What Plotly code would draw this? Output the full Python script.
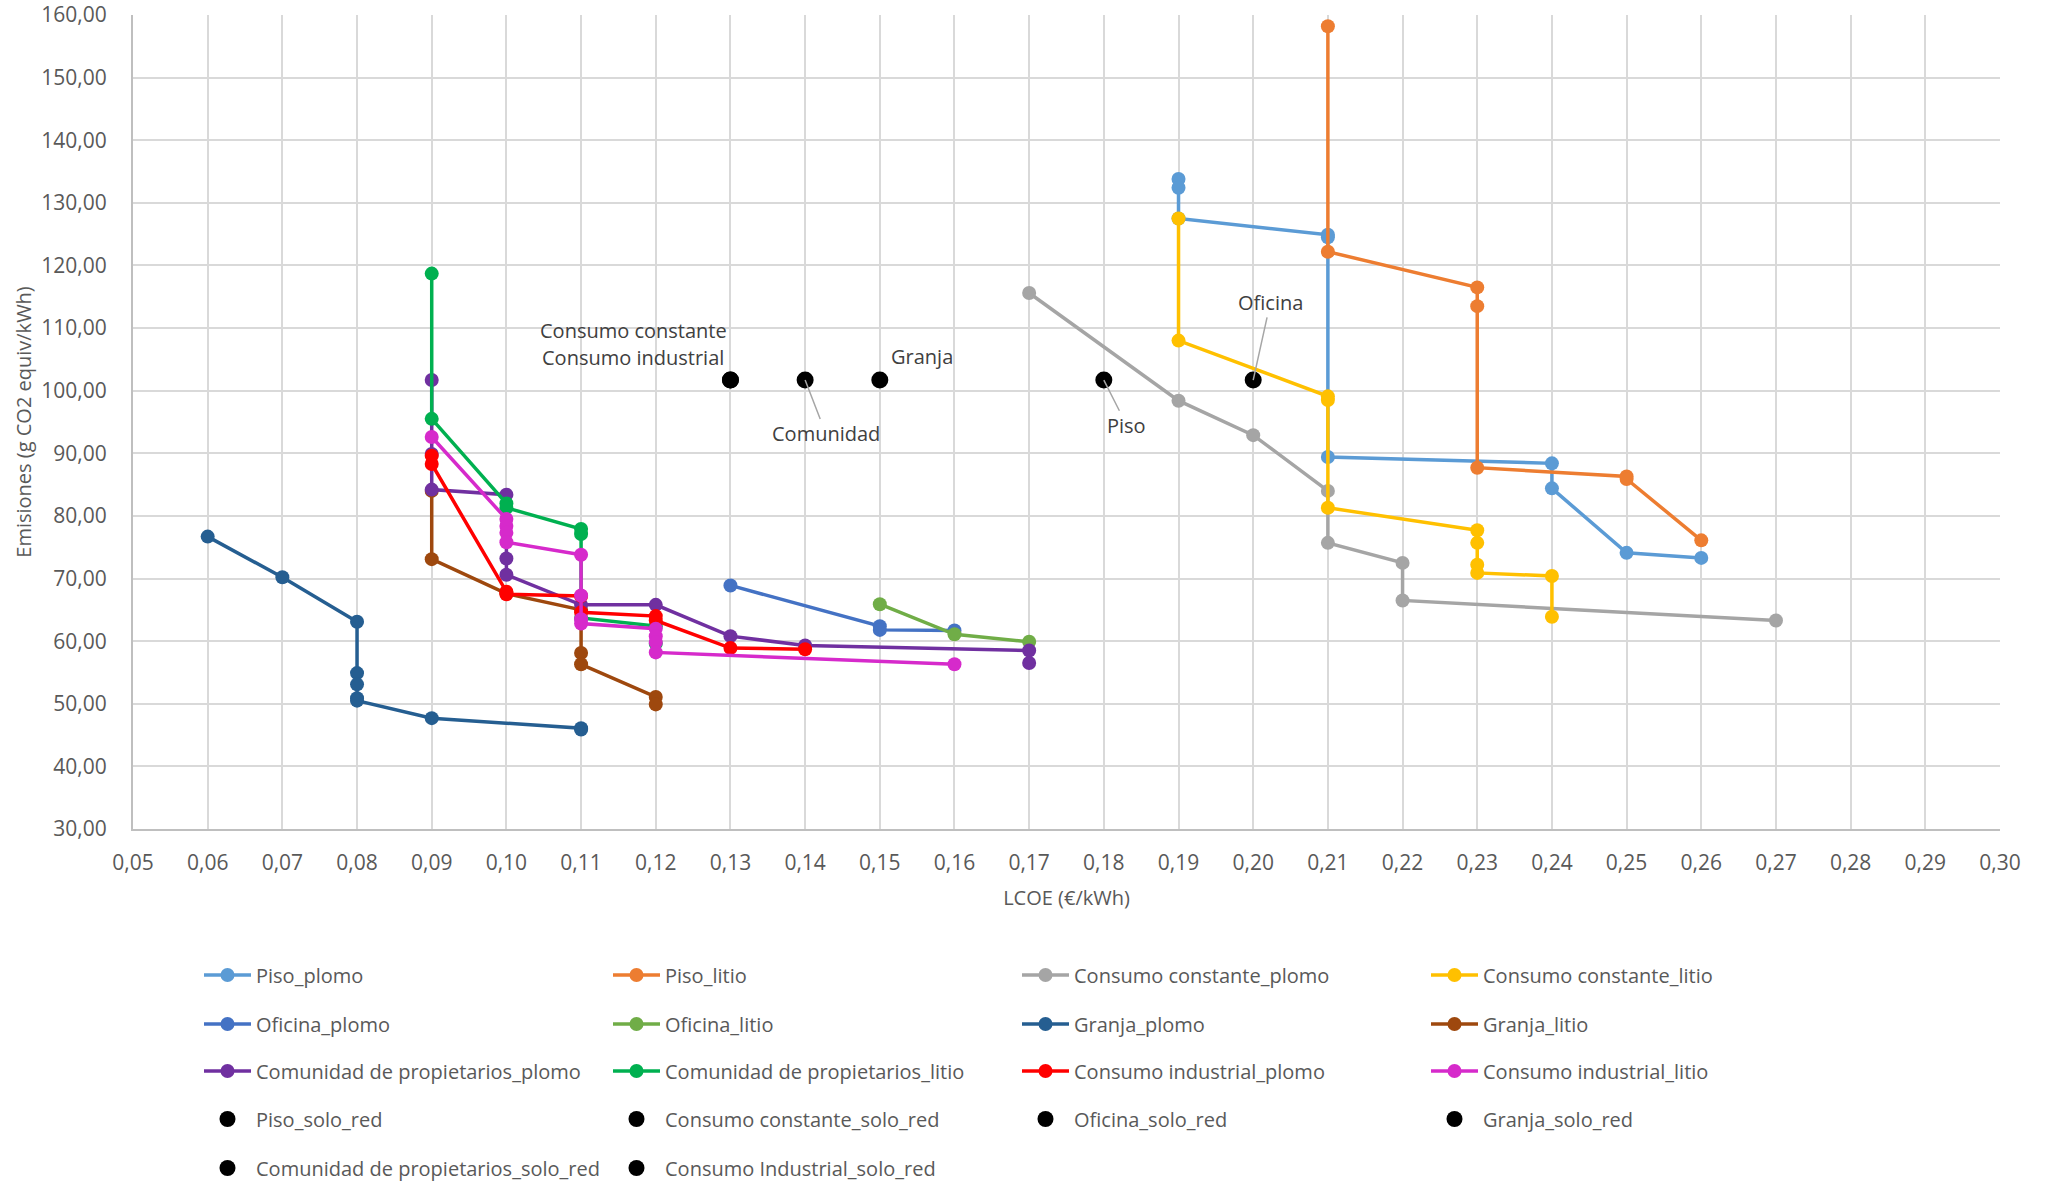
import plotly.graph_objects as go

# LCOE (€/kWh) and emissions (g CO2 equiv/kWh) for each scenario
piso_plomo_x = [0.19, 0.19, 0.19, 0.21, 0.21, 0.21, 0.24, 0.24, 0.25, 0.26]
piso_plomo_y = [133.8, 132.4, 127.5, 124.9, 124.5, 89.4, 88.4, 84.4, 74.1, 73.3]

piso_litio_x = [0.21, 0.21, 0.23, 0.23, 0.23, 0.25, 0.25, 0.26]
piso_litio_y = [158.2, 122.2, 116.5, 113.5, 87.7, 86.3, 85.9, 76.1]

cc_plomo_x = [0.17, 0.19, 0.20, 0.21, 0.21, 0.22, 0.22, 0.27]
cc_plomo_y = [115.6, 98.4, 92.9, 84.0, 75.7, 72.5, 66.5, 63.3]

cc_litio_x = [0.19, 0.19, 0.21, 0.21, 0.21, 0.23, 0.23, 0.23, 0.23, 0.24, 0.24]
cc_litio_y = [127.5, 108.0, 99.1, 98.5, 81.3, 77.7, 75.7, 72.2, 70.9, 70.4, 63.9]

oficina_plomo_x = [0.13, 0.15, 0.15, 0.16]
oficina_plomo_y = [68.9, 62.4, 61.8, 61.7]

oficina_litio_x = [0.15, 0.16, 0.17]
oficina_litio_y = [65.9, 61.1, 59.9]

granja_plomo_x = [0.06, 0.07, 0.08, 0.08, 0.08, 0.08, 0.08, 0.09, 0.11, 0.11]
granja_plomo_y = [76.7, 70.2, 63.1, 54.9, 53.1, 50.9, 50.5, 47.7, 46.1, 45.9]

granja_litio_x = [0.09, 0.09, 0.10, 0.11, 0.11, 0.11, 0.12, 0.12]
granja_litio_y = [84.0, 73.1, 67.6, 65.0, 58.1, 56.3, 51.1, 49.9]

comunidad_plomo_x = [0.09, 0.09, 0.09, 0.10, 0.10, 0.10, 0.11, 0.12, 0.13, 0.14, 0.17, 0.17]
comunidad_plomo_y = [101.7, 89.9, 84.2, 83.4, 73.2, 70.6, 65.8, 65.8, 60.8, 59.3, 58.5, 56.5]

comunidad_litio_x = [0.09, 0.09, 0.10, 0.10, 0.11, 0.11, 0.11, 0.12, 0.12]
comunidad_litio_y = [118.7, 95.5, 82.0, 81.3, 77.9, 77.1, 63.7, 62.4, 59.6]

ci_plomo_x = [0.09, 0.09, 0.10, 0.10, 0.11, 0.11, 0.12, 0.12, 0.13, 0.14]
ci_plomo_y = [89.6, 88.3, 67.9, 67.5, 67.2, 64.6, 64.0, 63.3, 58.9, 58.7]

ci_litio_x = [0.09, 0.10, 0.10, 0.10, 0.10, 0.11, 0.11, 0.11, 0.11, 0.12, 0.12, 0.12, 0.12, 0.16]
ci_litio_y = [92.6, 79.5, 78.4, 77.3, 75.8, 73.8, 67.3, 63.5, 62.8, 62.0, 60.8, 59.8, 58.2, 56.3]

# Grid-only reference points (one per building type)
solo_red_names = ["Piso_solo_red", "Consumo constante_solo_red", "Oficina_solo_red",
                  "Granja_solo_red", "Comunidad de propietarios_solo_red",
                  "Consumo Industrial_solo_red"]
solo_red_x = [0.18, 0.13, 0.20, 0.15, 0.14, 0.13]
solo_red_y = [101.7, 101.7, 101.7, 101.7, 101.7, 101.7]

x_ticks = [round(0.05 + 0.01 * i, 2) for i in range(26)]
y_ticks = list(range(30, 161, 10))

line_series = [
    ("Piso_plomo", piso_plomo_x, piso_plomo_y, "#5B9BD5"),
    ("Piso_litio", piso_litio_x, piso_litio_y, "#ED7D31"),
    ("Consumo constante_plomo", cc_plomo_x, cc_plomo_y, "#A5A5A5"),
    ("Consumo constante_litio", cc_litio_x, cc_litio_y, "#FFC000"),
    ("Oficina_plomo", oficina_plomo_x, oficina_plomo_y, "#4472C4"),
    ("Oficina_litio", oficina_litio_x, oficina_litio_y, "#70AD47"),
    ("Granja_plomo", granja_plomo_x, granja_plomo_y, "#255E91"),
    ("Granja_litio", granja_litio_x, granja_litio_y, "#9E480E"),
    ("Comunidad de propietarios_plomo", comunidad_plomo_x, comunidad_plomo_y, "#7030A0"),
    ("Comunidad de propietarios_litio", comunidad_litio_x, comunidad_litio_y, "#00B050"),
    ("Consumo industrial_plomo", ci_plomo_x, ci_plomo_y, "#FF0000"),
    ("Consumo industrial_litio", ci_litio_x, ci_litio_y, "#D62ACB"),
]

FONT = "Open Sans"
TEXT = "#595959"
W, H = 2050, 1184

legend_ids = ["legend", "legend2", "legend3", "legend4", "legend5"]

fig = go.Figure()

for i, (name, xs, ys, color) in enumerate(line_series):
    fig.add_trace(go.Scatter(
        x=xs, y=ys, name=name, mode="lines+markers",
        line=dict(color=color, width=3.5),
        marker=dict(color=color, size=14),
        legend=legend_ids[i // 4],
    ))

for j, (name, xv, yv) in enumerate(zip(solo_red_names, solo_red_x, solo_red_y)):
    fig.add_trace(go.Scatter(
        x=[xv], y=[yv], name=name, mode="markers",
        marker=dict(color="black", size=17),
        legend=legend_ids[3 + j // 4],
    ))

# Labels for the grid-only points
ann_font = dict(family=FONT, size=20, color="#404040")
fig.add_annotation(x=0.117, y=109.6, text="Consumo constante", showarrow=False, font=ann_font)
fig.add_annotation(x=0.117, y=105.3, text="Consumo industrial", showarrow=False, font=ann_font)
fig.add_annotation(x=0.1557, y=105.5, text="Granja", showarrow=False, font=ann_font)
for label, tx, ty, px in [("Comunidad", 0.1428, 93.1, 0.14),
                          ("Piso", 0.1831, 94.4, 0.18),
                          ("Oficina", 0.2023, 114.1, 0.20)]:
    fig.add_annotation(x=px, y=101.7, ax=tx, ay=ty, axref="x", ayref="y",
                       text=label, showarrow=True, arrowhead=0, arrowwidth=1.5,
                       arrowcolor="#A6A6A6", standoff=0, font=ann_font)

# Legend rows laid out as a 4-column grid under the plot
row_centers = [975, 1024, 1071, 1119, 1168]
legend_layout = {}
for k, lid in enumerate(legend_ids):
    legend_layout[lid] = dict(
        orientation="h", xref="container", yref="container",
        x=199 / W, y=1 - row_centers[k] / H, xanchor="left", yanchor="middle",
        entrywidth=347, entrywidthmode="pixels", itemwidth=47,
        font=dict(family=FONT, size=20, color=TEXT),
        bgcolor="rgba(0,0,0,0)", traceorder="normal",
    )

fig.update_layout(
    width=W, height=H,
    margin=dict(l=133, r=50, t=15, b=355, autoexpand=False),
    paper_bgcolor="white", plot_bgcolor="white",
    separators=",.",
    font=dict(family=FONT, size=21, color=TEXT),
    **legend_layout,
)

fig.update_xaxes(
    range=[0.05, 0.30], tickmode="array", tickvals=x_ticks, tickformat=".2f",
    showgrid=True, gridcolor="#D9D9D9", gridwidth=2,
    showline=True, linecolor="#BFBFBF", linewidth=2, zeroline=False,
    ticks="", ticklabelstandoff=14, automargin=False,
    tickfont=dict(family=FONT, size=21, color=TEXT),
    title=dict(text="LCOE (€/kWh)", font=dict(family=FONT, size=20, color=TEXT), standoff=16),
)
fig.update_yaxes(
    range=[30, 160], tickmode="array", tickvals=y_ticks, tickformat=".2f",
    showgrid=True, gridcolor="#D9D9D9", gridwidth=2,
    showline=True, linecolor="#BFBFBF", linewidth=2, zeroline=False,
    ticks="", ticklabelstandoff=20, automargin=False,
    tickfont=dict(family=FONT, size=21, color=TEXT),
    title=dict(text="Emisiones (g CO2 equiv/kWh)", font=dict(family=FONT, size=20, color=TEXT), standoff=4),
)

fig.write_html("out.html")
